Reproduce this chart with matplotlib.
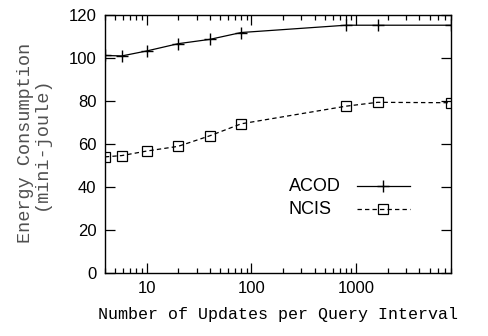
import matplotlib
matplotlib.use("Agg")
import matplotlib.pyplot as plt
from matplotlib.lines import Line2D
from matplotlib.ticker import LogLocator, NullFormatter, FixedLocator

# data
updates = [4, 5.8, 10, 20, 40, 80, 800, 1600, 8000]
acod = [101.2, 101.0, 103.3, 106.7, 108.7, 111.9, 115.3, 115.3, 115.3]
ncis = [54.0, 54.6, 56.7, 58.9, 63.8, 69.4, 77.6, 79.4, 79.2]

x_ticks = [10, 100, 1000]
x_tick_labels = ["10", "100", "1000"]
y_ticks = [0, 20, 40, 60, 80, 100, 120]

label_font = "Liberation Mono"
tick_font = "Liberation Sans"

fig = plt.figure(figsize=(4.88, 3.36), dpi=100)
ax = fig.add_axes([0.215, 0.188, 0.709, 0.767])

acod_style = dict(color="black", linestyle="-", linewidth=0.9,
                  marker="+", markersize=8, markeredgewidth=1.0)
ncis_style = dict(color="black", linestyle=(0, (3.5, 2.5)), linewidth=0.9,
                  marker="s", markersize=7, markerfacecolor="none",
                  markeredgewidth=0.9)

ax.plot(updates, acod, label="ACOD", **acod_style)
ax.plot(updates, ncis, label="NCIS", **ncis_style)

ax.set_xscale("log")
ax.set_xlim(4, 8000)
ax.set_ylim(0, 120)

ax.xaxis.set_major_locator(FixedLocator(x_ticks))
ax.set_xticklabels(x_tick_labels)
ax.xaxis.set_minor_locator(LogLocator(base=10, subs=range(2, 10), numticks=20))
ax.xaxis.set_minor_formatter(NullFormatter())
ax.set_yticks(y_ticks)

ax.tick_params(which="both", direction="in", top=True, right=True,
               labelsize=12, pad=6, width=0.9)
ax.tick_params(which="major", length=7)
ax.tick_params(which="minor", length=3.5)
for lbl in ax.get_xticklabels() + ax.get_yticklabels():
    lbl.set_fontfamily(tick_font)
for sp in ax.spines.values():
    sp.set_linewidth(1.0)

ax.set_xlabel("Number of Updates per Query Interval", fontsize=12,
              family=label_font, labelpad=8)
fig.text(0.068, 0.574, "Energy Consumption\n(mini-joule)", rotation=90,
         ha="center", va="center", multialignment="center",
         fontsize=13.3, family=label_font, color="#505050", linespacing=0.95)

# gnuplot style key: text left, sample line on the right
for (name, style), ty in zip([("ACOD", acod_style), ("NCIS", ncis_style)],
                             [0.336, 0.247]):
    ax.text(0.532, ty, name, transform=ax.transAxes, ha="left", va="center",
            fontsize=13, family=tick_font)
    ax.add_line(Line2D([0.728, 0.882], [ty, ty], transform=ax.transAxes,
                       markevery=[], **style))
    ax.add_line(Line2D([0.805], [ty], transform=ax.transAxes,
                       **{**style, "linestyle": "none"}))

fig.savefig("out.png", dpi=100)
